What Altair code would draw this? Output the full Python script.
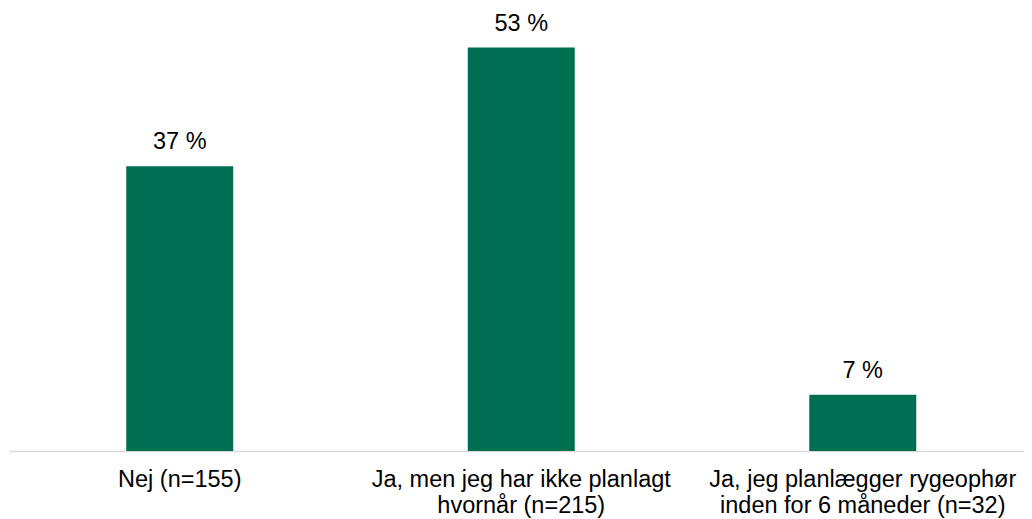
import altair as alt
import pandas as pd

categories = [
    "Nej (n=155)",
    "Ja, men jeg har ikke planlagt\nhvornår (n=215)",
    "Ja, jeg planlægger rygeophør\ninden for 6 måneder (n=32)",
]
values = [37.4, 53.0, 7.4]

df = pd.DataFrame({"cat": categories, "value": values})

x = alt.X(
    "cat:N",
    sort=categories,
    title=None,
    scale=alt.Scale(range=[0, 1024.5], paddingInner=0.6867, paddingOuter=0.3433),
    axis=alt.Axis(
        labelAngle=0,
        labelExpr="split(datum.label, '\\n')",
        labelFont="Liberation Sans",
        labelFontSize=23.5,
        labelColor="#000000",
        labelLineHeight=26,
        labelPadding=16,
        labelBaseline="top",
        ticks=False,
        tickSize=0,
        domainColor="#d9d9d9",
        domainWidth=1.5,
        grid=False,
        labelLimit=0,
    ),
)
y = alt.Y("value:Q", scale=alt.Scale(domain=[0, 58.2], nice=False), axis=None)

base = alt.Chart(df).encode(x=x, y=y)

bars = base.mark_bar(color="#006E50")
labels = base.transform_calculate(
    lab="format(datum.value, '.0f') + ' %'"
).mark_text(
    font="Liberation Sans", fontSize=23.5, color="#000000", baseline="alphabetic", dy=-17
).encode(text="lab:N")

chart = (
    (bars + labels)
    .properties(
        width=1015,
        height=443,
        autosize=alt.AutoSizeParams(type="none"),
        padding={"left": 1, "top": 0, "right": 0, "bottom": 72},
    )
    .configure_view(stroke=None)
)

chart.save("out.html", embed_options={"renderer": "svg", "actions": False})
